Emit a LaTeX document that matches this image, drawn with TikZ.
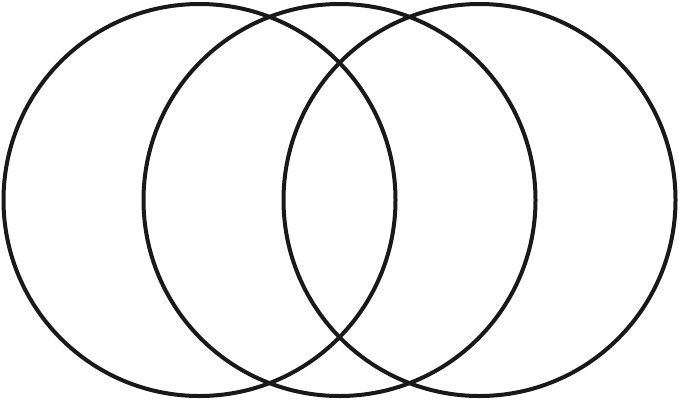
\documentclass[tikz,border=0pt]{standalone}
\usetikzlibrary{positioning}

\begin{document}
\begin{tikzpicture}[x=1bp,y=-1bp,node distance=140bp,on grid]
  \tikzstyle{ring}=[circle,draw=black!90,line width=4bp,minimum size=392bp,inner sep=0pt]
  \useasboundingbox (0,0) rectangle (679,400);
  % Circles
  \node[ring] (c1) at (199.5,200) {};
  \node[ring] (c2) [right=of c1] {};
  \node[ring] (c3) [right=of c2] {};
\end{tikzpicture}
\end{document}
